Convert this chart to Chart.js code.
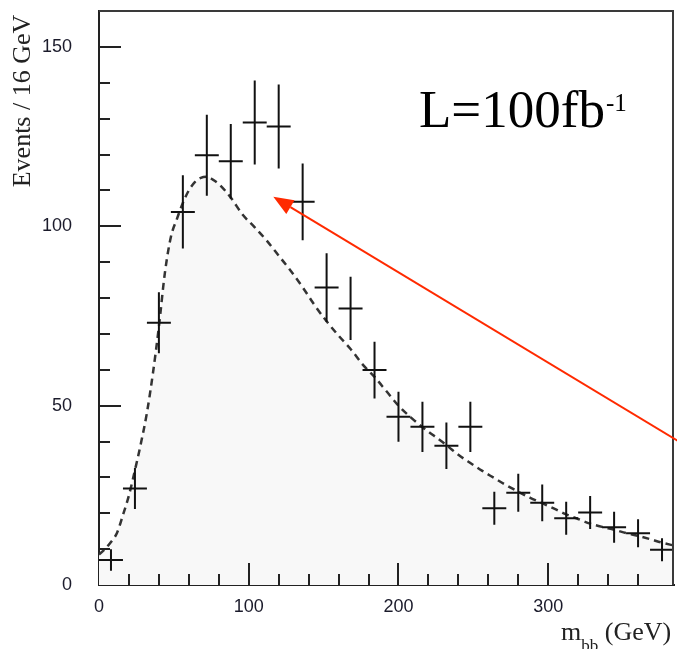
<!DOCTYPE html>
<html><head><meta charset="utf-8">
<script src="https://cdn.jsdelivr.net/npm/chart.js@4.4.0/dist/chart.umd.min.js"></script>
<style>html,body{margin:0;padding:0;background:#fff;overflow:hidden;}</style>
</head><body>
<canvas id="c" width="677" height="649"></canvas>
<script>
// ---- data ----
const binCenters = [8,24,40,56,72,88,104,120,136,152,168,184,200,216,232,248,264,280,296,312,328,344,360,376];
const events     = [7.0,26.9,73.1,104.0,119.8,118.1,128.9,127.8,106.8,82.9,77.1,59.9,46.9,44.1,38.8,44.1,21.4,25.7,22.9,18.6,20.2,16.1,14.4,9.8];
const errors     = [3.0,5.7,8.5,10.2,11.3,10.4,11.7,11.7,10.7,9.6,8.8,7.9,7.0,7.0,6.5,7.0,4.6,5.3,5.1,4.6,4.6,4.3,3.9,3.2];
const binHalfWidth = 8;
const curveX = [0,4,8,12,16,20,24,28,32,36,40,44,48,52,56,60,64,68,72,76,80,88,96,104,112,120,128,136,144,152,160,168,176,184,192,200,208,216,224,232,240,248,256,264,272,280,288,296,304,312,320,328,336,344,352,360,368,376,384];
const curveY = [8.5,10,12,14.5,19.5,25,32,39.5,48,59,72,87,97,102,106.5,110,112.3,113.5,113.8,113,111.8,108,103.2,99.7,96,91.8,87.6,83,78,73.5,69.5,65.8,61.5,58,54,50,46.8,44,41.5,39,36.3,34,31.8,29.8,27.8,26,24.3,22.8,21.3,19.7,18.4,17.1,16.2,15.4,14.5,13.7,12.8,11.8,11];
const xRange = [0, 384];
const yRange = [0, 160];
const xLabelEvery = 100, xMinorStep = 20;
const yLabelEvery = 50,  yMinorStep = 10;
const yTitle = 'Events / 16 GeV';
const xTitleMain = 'm', xTitleSub = 'bb', xTitleRest = ' (GeV)';
const lumiText = 'L=100fb', lumiSup = '-1';
const arrowTip  = {x:116.4, y:108.2};
const arrowTail = {x:392,   y:38.8};

const overlay = {
  id: 'overlay',
  afterDatasetsDraw(chart) {
    const {ctx, chartArea: a, scales: {x, y}} = chart;
    ctx.save();
    // error-bar crosses
    ctx.strokeStyle = '#111'; ctx.lineWidth = 2; ctx.lineCap = 'butt';
    binCenters.forEach((c, i) => {
      const px = x.getPixelForValue(c), py = y.getPixelForValue(events[i]);
      ctx.beginPath();
      ctx.moveTo(x.getPixelForValue(c - binHalfWidth), py);
      ctx.lineTo(x.getPixelForValue(c + binHalfWidth), py);
      ctx.moveTo(px, y.getPixelForValue(events[i] - errors[i]));
      ctx.lineTo(px, y.getPixelForValue(events[i] + errors[i]));
      ctx.stroke();
    });
    // inward tick marks
    ctx.strokeStyle = '#222'; ctx.lineWidth = 2;
    ctx.beginPath();
    y.ticks.forEach(t => {
      const v = t.value;
      if (v <= yRange[0] || v >= yRange[1] || v % yMinorStep) return;
      const len = v % yLabelEvery === 0 ? 22 : 11;
      const py = Math.round(y.getPixelForValue(v));
      ctx.moveTo(a.left, py); ctx.lineTo(a.left + len, py);
    });
    x.ticks.forEach(t => {
      const v = t.value;
      if (v <= xRange[0] || v >= xRange[1] || v % xMinorStep) return;
      const len = v % xLabelEvery === 0 ? 22 : 11;
      const px = Math.round(x.getPixelForValue(v));
      ctx.moveTo(px, a.bottom); ctx.lineTo(px, a.bottom - len);
    });
    ctx.stroke();
    // top / right frame
    ctx.strokeStyle = '#3a3a3a'; ctx.lineWidth = 2;
    ctx.beginPath();
    ctx.moveTo(a.left, a.top); ctx.lineTo(a.right - 1, a.top); ctx.lineTo(a.right - 1, a.bottom);
    ctx.stroke();
    ctx.restore();
  },
  afterDraw(chart) {
    const {ctx, scales: {x, y}} = chart;
    ctx.save();
    ctx.fillStyle = '#000';
    ctx.textBaseline = 'alphabetic'; ctx.textAlign = 'left';
    // luminosity label
    ctx.font = '53px "Liberation Serif", serif';
    ctx.fillText(lumiText, 419, 127);
    const w = ctx.measureText(lumiText).width;
    ctx.font = '25px "Liberation Serif", serif';
    ctx.fillText(lumiSup, 419 + w + 1, 111);
    // y title
    ctx.save();
    ctx.fillStyle = '#222';
    ctx.translate(23, 101); ctx.rotate(-Math.PI / 2);
    ctx.textAlign = 'center'; ctx.textBaseline = 'middle';
    ctx.font = '26px "Liberation Serif", serif';
    ctx.fillText(yTitle, 0, 0);
    ctx.restore();
    // x title
    ctx.fillStyle = '#222';
    let xx = 561;
    ctx.font = '26px "Liberation Serif", serif';
    ctx.fillText(xTitleMain, xx, 640); xx += ctx.measureText(xTitleMain).width;
    ctx.font = '17px "Liberation Serif", serif';
    ctx.fillText(xTitleSub, xx, 651); xx += ctx.measureText(xTitleSub).width;
    ctx.font = '26px "Liberation Serif", serif';
    ctx.fillText(xTitleRest, xx, 640);
    // red arrow
    const tx = x.getPixelForValue(arrowTip.x), ty = y.getPixelForValue(arrowTip.y);
    const sx = x.getPixelForValue(arrowTail.x), sy = y.getPixelForValue(arrowTail.y);
    const ang = Math.atan2(ty - sy, tx - sx);
    const hl = 20, hw = 8;
    const bx = tx - hl * Math.cos(ang), by = ty - hl * Math.sin(ang);
    ctx.strokeStyle = '#ff2a00'; ctx.fillStyle = '#ff2a00'; ctx.lineWidth = 2;
    ctx.beginPath(); ctx.moveTo(sx, sy); ctx.lineTo(bx, by); ctx.stroke();
    ctx.beginPath();
    ctx.moveTo(tx, ty);
    ctx.lineTo(bx + hw * Math.sin(ang), by - hw * Math.cos(ang));
    ctx.lineTo(bx - hw * Math.sin(ang), by + hw * Math.cos(ang));
    ctx.closePath(); ctx.fill();
    ctx.restore();
  }
};

const zeroPad = s => { s.paddingTop = 0; s.paddingBottom = 0; s.paddingLeft = 0; s.paddingRight = 0; };

new Chart(document.getElementById('c'), {
  type: 'line',
  data: {
    datasets: [{
      data: curveX.map((v, i) => ({x: v, y: curveY[i]})),
      borderColor: '#333',
      borderWidth: 2.5,
      borderDash: [7, 5],
      backgroundColor: '#f8f8f8',
      fill: 'origin',
      pointRadius: 0,
      cubicInterpolationMode: 'monotone'
    }]
  },
  options: {
    responsive: false,
    devicePixelRatio: 1,
    animation: false,
    layout: {padding: {top: 11, right: 3, left: 0, bottom: 0}},
    plugins: {legend: {display: false}, tooltip: {enabled: false}},
    scales: {
      x: {
        type: 'linear', min: xRange[0], max: xRange[1],
        grid: {display: false, drawTicks: false},
        border: {display: true, color: '#222', width: 2},
        ticks: {
          stepSize: xMinorStep, autoSkip: false, maxRotation: 0, padding: 11,
          color: '#1b1b2b', font: {family: '"Liberation Sans", sans-serif', size: 18},
          callback: v => (v % xLabelEvery === 0 ? v : '')
        },
        afterFit: s => { s.height = 64; zeroPad(s); }
      },
      y: {
        type: 'linear', min: yRange[0], max: yRange[1],
        grid: {display: false, drawTicks: false},
        border: {display: true, color: '#222', width: 2},
        ticks: {
          stepSize: yMinorStep, autoSkip: false, padding: 27,
          color: '#1b1b2b', font: {family: '"Liberation Sans", sans-serif', size: 18},
          callback: v => (v % yLabelEvery === 0 ? v : '')
        },
        afterFit: s => { s.width = 99; zeroPad(s); }
      }
    }
  },
  plugins: [overlay]
});
</script>
</body></html>
